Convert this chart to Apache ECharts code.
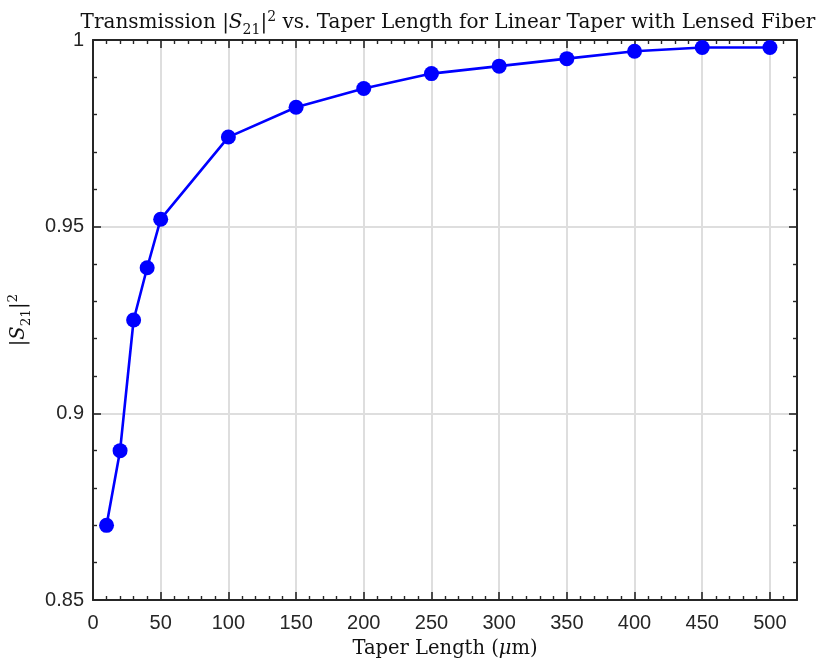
<!DOCTYPE html>
<html>
<head>
<meta charset="utf-8">
<script src="https://cdn.jsdelivr.net/npm/echarts@6/dist/echarts.min.js"></script>
<style>
  html, body { margin: 0; padding: 0; background: #ffffff; }
  #chart { width: 820px; height: 664px; }
</style>
</head>
<body>
<div id="chart"></div>
<script>
// Taper lengths (µm) and the simulated transmission |S21|^2 at each length
const taperLengths = [10, 20, 30, 40, 50, 100, 150, 200, 250, 300, 350, 400, 450, 500];
const transmission = [0.870, 0.890, 0.925, 0.939, 0.952, 0.974, 0.982, 0.987, 0.991, 0.993, 0.995, 0.997, 0.998, 0.998];

// Axis ranges and tick spacing
const xRange = [0, 520];
const xStep = 50;
const yRange = [0.85, 1];
const yStep = 0.05;

const axisColor = '#262626';
const gridColor = '#dedede';
const sansFont = 'Liberation Sans';
const serifFont = 'DejaVu Serif';

const points = taperLengths.map((x, i) => [x, transmission[i]]);

// Rich-text styles for the math pieces of the title and axis names
function mathRich(size) {
  const base = { fontFamily: serifFont, fontWeight: 'normal', color: '#111' };
  return {
    rm: Object.assign({ fontSize: size, lineHeight: size * 1.5 }, base),
    it: Object.assign({ fontSize: size, fontStyle: 'italic', lineHeight: size * 1.5 }, base),
    sub: Object.assign({ fontSize: size * 0.7, lineHeight: size * 0.7, verticalAlign: 'bottom', padding: [0, 0, 1, 0] }, base),
    sup: Object.assign({ fontSize: size * 0.7, lineHeight: size * 0.7, verticalAlign: 'top', padding: [2, 0, 0, 0] }, base)
  };
}

const boxAxisCommon = {
  axisLine: { show: true, onZero: false, lineStyle: { color: axisColor, width: 2 } },
  axisTick: { show: true, inside: true, length: 8, lineStyle: { color: axisColor, width: 1.6 } },
  minorTick: { show: true, splitNumber: 5, length: 4, lineStyle: { color: axisColor, width: 1.4 } }
};

const chart = echarts.init(document.getElementById('chart'), null, { renderer: 'canvas' });

chart.setOption({
  backgroundColor: '#ffffff',
  animation: false,
  title: {
    text: '{rm|Transmission |}{it|S}{sub|21}{rm||}{sup|2}{rm| vs. Taper Length for Linear Taper with Lensed Fiber}',
    left: 443,
    textAlign: 'center',
    top: 3,
    textStyle: { fontWeight: 'normal', rich: mathRich(20) }
  },
  grid: { left: 93, right: 23, top: 40, bottom: 64, containLabel: false, outerBoundsMode: 'none' },
  xAxis: [
    Object.assign({
      type: 'value',
      position: 'bottom',
      min: xRange[0],
      max: xRange[1],
      interval: xStep,
      name: '{rm|Taper Length (}{it|μ}{rm|m)}',
      nameLocation: 'middle',
      nameGap: 34,
      nameTextStyle: { rich: mathRich(19.5) },
      axisLabel: { show: true, showMaxLabel: false, margin: 13, color: axisColor, fontFamily: sansFont, fontSize: 20 },
      splitLine: { show: true, lineStyle: { color: gridColor, width: 2 } }
    }, boxAxisCommon),
    Object.assign({
      type: 'value',
      position: 'top',
      min: xRange[0],
      max: xRange[1],
      interval: xStep,
      axisLabel: { show: false },
      splitLine: { show: false }
    }, boxAxisCommon)
  ],
  yAxis: [
    Object.assign({
      type: 'value',
      position: 'left',
      min: yRange[0],
      max: yRange[1],
      interval: yStep,
      name: '{rm||}{it|S}{sub|21}{rm||}{sup|2}',
      nameLocation: 'middle',
      nameRotate: 90,
      nameGap: 59,
      nameTextStyle: { rich: mathRich(19.5) },
      axisLabel: { show: true, margin: 9, color: axisColor, fontFamily: sansFont, fontSize: 20 },
      splitLine: { show: true, lineStyle: { color: gridColor, width: 2 } }
    }, boxAxisCommon),
    Object.assign({
      type: 'value',
      position: 'right',
      min: yRange[0],
      max: yRange[1],
      interval: yStep,
      axisLabel: { show: false },
      splitLine: { show: false }
    }, boxAxisCommon)
  ],
  series: [{
    type: 'line',
    xAxisIndex: 0,
    yAxisIndex: 0,
    data: points,
    symbol: 'circle',
    symbolSize: 15,
    lineStyle: { color: '#0000ff', width: 2.6 },
    itemStyle: { color: '#0000ff' },
    z: 5
  }]
});
</script>
</body>
</html>
